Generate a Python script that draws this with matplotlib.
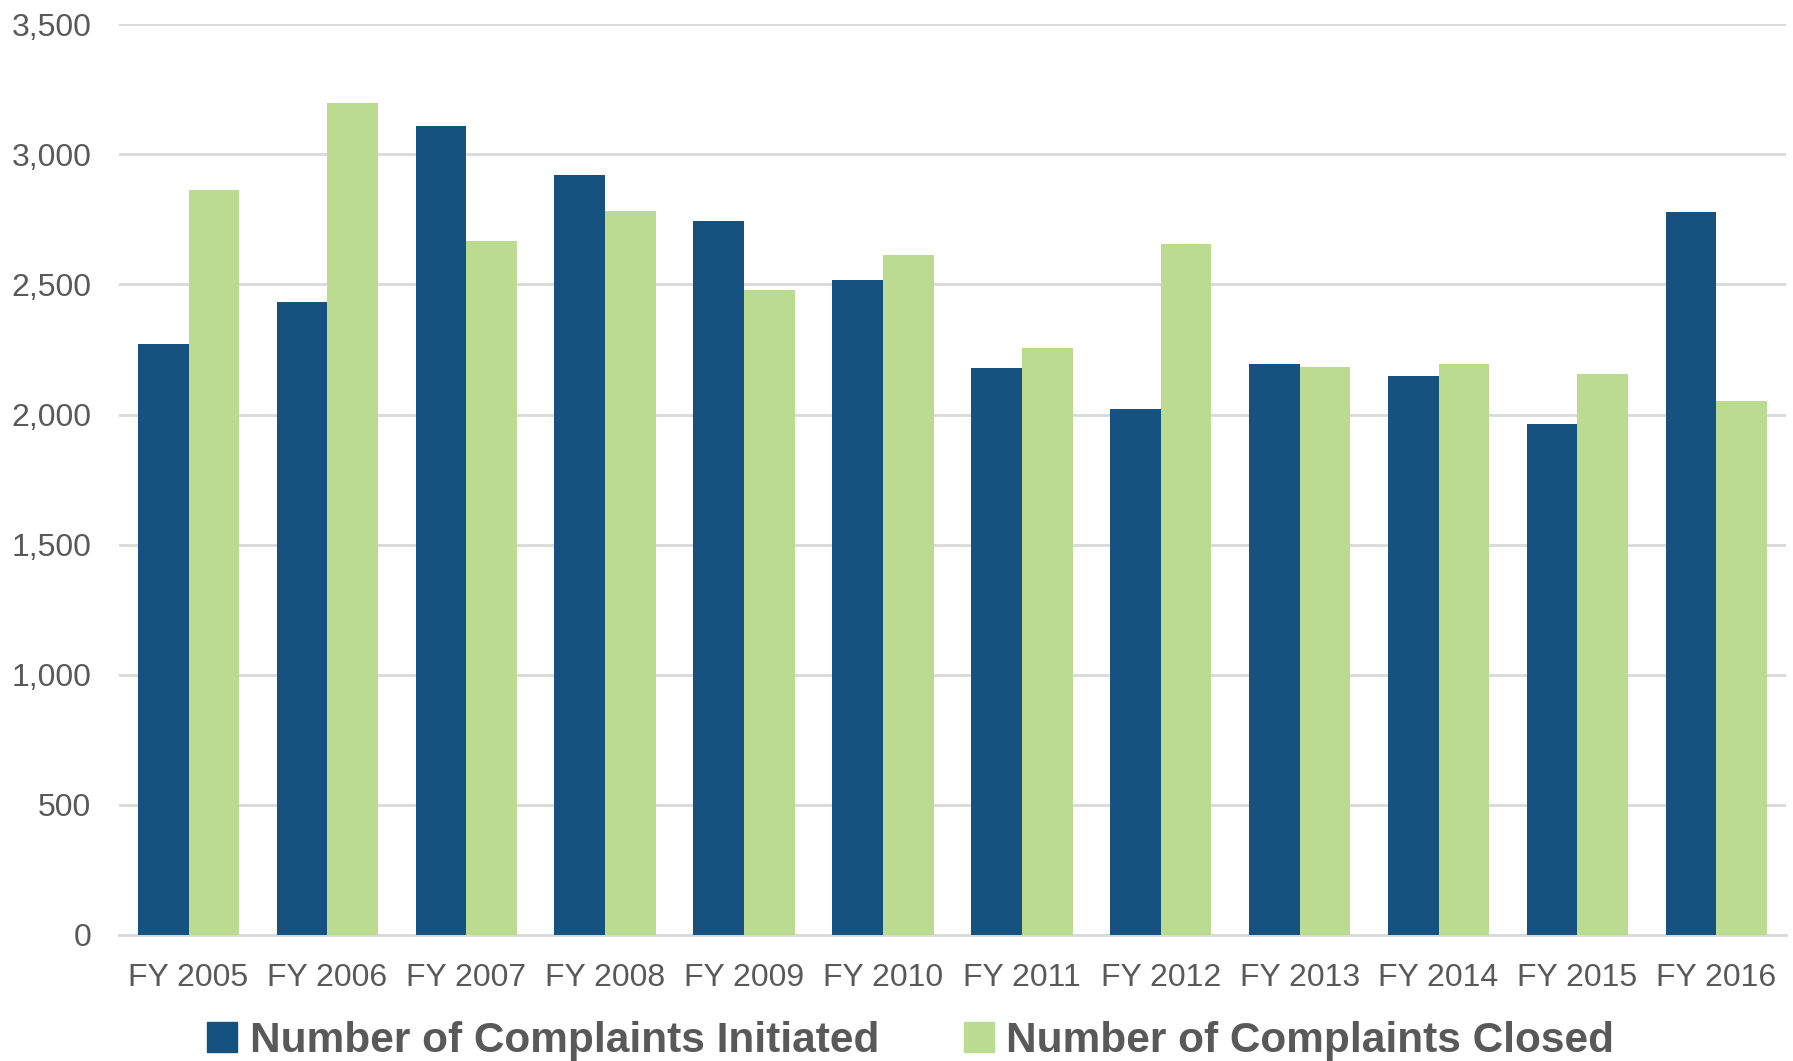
import matplotlib.pyplot as plt
import numpy as np
from matplotlib.patches import Patch
from matplotlib.ticker import FuncFormatter

years = ["FY 2005", "FY 2006", "FY 2007", "FY 2008", "FY 2009", "FY 2010",
         "FY 2011", "FY 2012", "FY 2013", "FY 2014", "FY 2015", "FY 2016"]
initiated = [2270, 2433, 3109, 2920, 2745, 2516, 2178, 2020, 2196, 2148, 1963, 2778]
closed = [2863, 3197, 2666, 2784, 2477, 2613, 2257, 2657, 2183, 2196, 2155, 2051]

blue = "#165280"
green = "#bbdb91"
grey = "#595959"

plt.rcParams["font.family"] = ["Liberation Sans", "DejaVu Sans"]

fig = plt.figure(figsize=(17.93, 10.61), dpi=100)
ax = fig.add_axes([0.0664, 0.119, 0.9296, 0.858])

x = np.arange(len(years))
w = 0.365
ax.bar(x - w / 2, initiated, w, color=blue, zorder=3)
ax.bar(x + w / 2, closed, w, color=green, zorder=3)

ax.set_xlim(-0.5, len(years) - 0.5)
ax.set_ylim(0, 3500)
ax.set_yticks(np.arange(0, 3501, 500))
ax.yaxis.set_major_formatter(FuncFormatter(lambda v, p: f"{int(v):,}"))
ax.grid(axis="y", color="#d9d9d9", linewidth=2, zorder=0)
for s in ["top", "right", "left"]:
    ax.spines[s].set_visible(False)
ax.spines["bottom"].set_color("#d9d9d9")
ax.spines["bottom"].set_linewidth(2)
ax.tick_params(length=0)
ax.tick_params(axis="y", labelsize=23, labelcolor=grey, pad=20)
ax.tick_params(axis="x", labelsize=23, labelcolor=grey, pad=20)
ax.set_xticks(x)
ax.set_xticklabels(years)

handles = [Patch(color=blue), Patch(color=green)]
fig.legend(handles, ["Number of Complaints Initiated", "Number of Complaints Closed"],
           loc="center", bbox_to_anchor=(0.508, 0.019), ncol=2, frameon=False,
           handlelength=0.7, handleheight=0.7, handletextpad=0.3, columnspacing=2.0,
           prop={"weight": "bold", "size": 30.5}, labelcolor=grey)

fig.savefig("out.png", dpi=100)
